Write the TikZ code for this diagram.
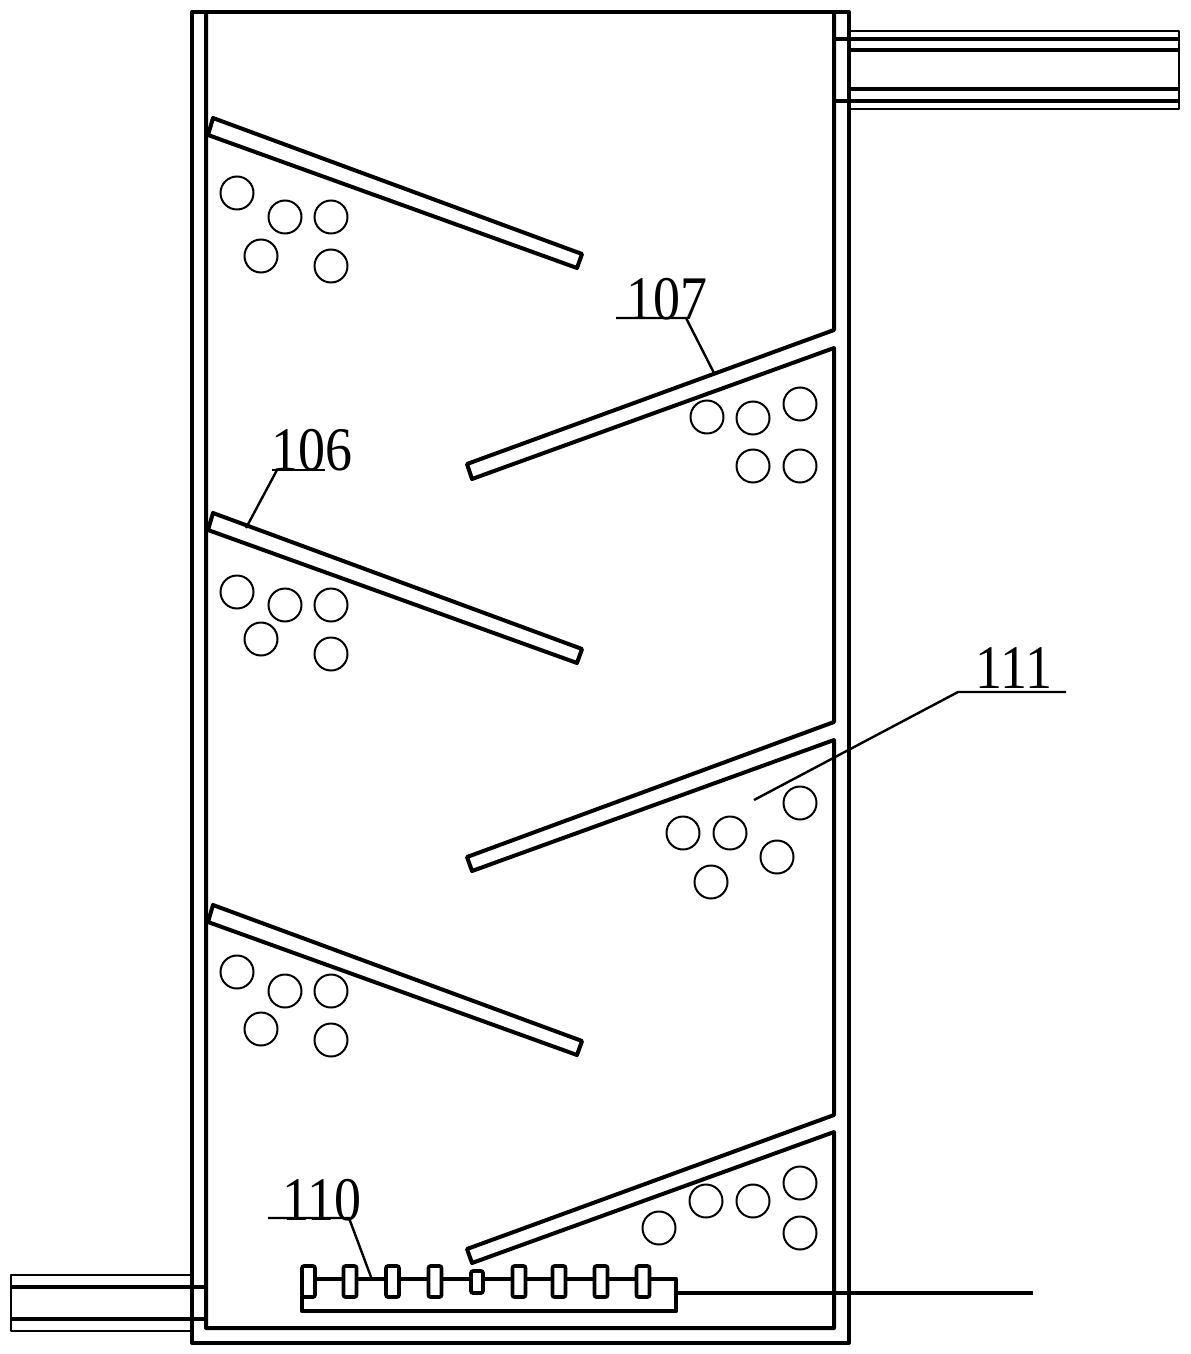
\documentclass[tikz,border=0pt]{standalone}
\usepackage{fontspec}
\setmainfont{Liberation Serif}
\newfontfamily\tagfont[FakeStretch=0.87]{Liberation Serif}
\usetikzlibrary{positioning}

\begin{document}
\begin{tikzpicture}[
    x=0.5pt, y=-0.5pt,
    wall/.style={line width=2pt, line join=round},
    tube/.style={line width=1.7pt},
    thin tube/.style={line width=1.4pt, line join=round},
    ball/.style={line width=1pt},
    lead/.style={line width=1.2pt},
    tab/.style={line width=1.8pt, fill=white, rounded corners=1pt},
    tag/.style={inner sep=0pt, font=\tagfont\fontsize{31}{31}\selectfont}
]
\useasboundingbox (0,0) rectangle (1190,1354);

% vessel
\draw[wall] (849,12) -- (192,12) -- (192,1343) -- (849,1343) -- cycle;
\draw[wall] (206,12) -- (206,1328) -- (834,1328) -- (834,1132) -- (472,1263) -- (467,1249) -- (834,1115)
    -- (834,740) -- (472,871) -- (467,857) -- (834,722)
    -- (834,348) -- (472,479) -- (467,464) -- (834,330) -- (834,12);

% left baffles
\foreach \yy in {0,395,787} {
    \draw[wall] (213,118+\yy) -- (582,254+\yy) -- (577,268+\yy) -- (208,135+\yy) -- cycle;
}

% balls
\foreach \xx/\yy in {237/193,285/217,331/217,261/256,331/266,
    237/592,285/605,331/605,261/639,331/654,
    237/972,285/991,331/991,261/1029,331/1040,
    707/417,753/418,800/404,753/466,800/466,
    683/833,730/833,800/803,777/857,711/882,
    659/1228,706/1201,753/1201,800/1183,800/1233} {
    \draw[ball] (\xx,\yy) circle [radius=16.5];
}

% outlet
\draw[thin tube] (849,31) -- (1179,31) -- (1179,109) -- (849,109);
\draw[tube] (834,39) -- (1179,39);
\draw[wall] (849,50) -- (1179,50);
\draw[wall] (849,89) -- (1179,89);
\draw[tube] (834,101) -- (1179,101);

% inlet
\draw[thin tube] (190,1275) -- (11,1275) -- (11,1331) -- (190,1331);
\draw[wall] (206,1287) -- (11,1287);
\draw[wall] (206,1319) -- (11,1319);

% aerator
\draw[wall, line width=2.2pt] (305,1279) -- (676,1279) -- (676,1311) -- (302,1311) -- (302,1296);
\draw[wall] (676,1293) -- (1033,1293);
\foreach \xx in {308.5,350,392.5,435,519,559,601,643} {
    \draw[tab] (\xx-6.5,1266) rectangle (\xx+6.5,1297);
}
\draw[tab] (471,1271) rectangle (483,1293);

% labels
\node[tag] (tag107) at (667,299) {107};
\node[tag] (tag106) at (312,450) {106};
\node[tag] (tag111) at (1013.5,668) {111};
\node[tag] (tag110) at (322,1200) {110};

\coordinate (bar107a) at (616,318);
\coordinate (bar107b) at (686,318);
\coordinate (end107) at (714,373);
\coordinate (bar106a) at (272,470);
\coordinate (bar106b) at (325,470);
\coordinate (knee106) at (277,470);
\coordinate (end106) at (246,528);
\coordinate (bar111a) at (958,692);
\coordinate (bar111b) at (1066,692);
\coordinate (end111) at (754,800);
\coordinate (bar110a) at (268,1218);
\coordinate (bar110b) at (349,1218);
\coordinate (end110) at (371,1277);

\draw[lead] (bar107a) -- (bar107b) -- (end107);
\draw[lead] (bar106a) -- (bar106b);
\draw[lead] (knee106) -- (end106);
\draw[lead] (bar111b) -- (bar111a) -- (end111);
\draw[lead] (bar110a) -- (bar110b) -- (end110);
\end{tikzpicture}
\end{document}
